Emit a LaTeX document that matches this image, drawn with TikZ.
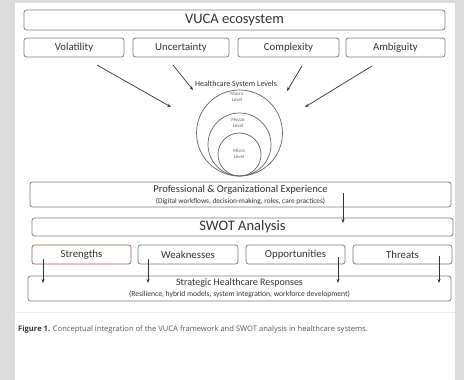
\documentclass[tikz,border=0pt]{standalone}
\usepackage{fontspec}
\setmainfont{Carlito}
\newfontfamily\capfont{Open Sans}
\usetikzlibrary{arrows.meta}

\definecolor{pagegray}{HTML}{DCDCDC}
\definecolor{boxline}{HTML}{7F7F7F}
\definecolor{redline}{HTML}{8E6A60}
\definecolor{inkgray}{HTML}{333333}

\tikzset{
  box/.style={draw=boxline, line width=0.8pt, rounded corners=2.5pt, fill=white,
    inner sep=0pt, text=inkgray, align=center},
  lvl/.style={font=\fontsize{5}{5.5}\selectfont, text=black!60, align=center, inner sep=0pt},
  arr/.style={-{Stealth[length=4pt,width=3pt]}, draw=inkgray, line width=0.7pt}
}

\begin{document}
\begin{tikzpicture}[x=1pt,y=-1pt]
    \fill [pagegray] (0,0) rectangle (464,380);
    \fill [white] (15,3) rectangle (455,380);
    \draw [black!7] (15,312) -- (455,312);

    \node [box, minimum width=421pt, minimum height=20pt, font=\fontsize{14.5}{16}\selectfont] (vuca) at (234.5,20) {VUCA ecosystem};
    \node [box, minimum width=100pt, minimum height=19pt, font=\fontsize{10.8}{12}\selectfont] (vol) at (74,47.5) {Volatility};
    \node [box, minimum width=96pt, minimum height=19pt, font=\fontsize{10.8}{12}\selectfont] (unc) at (181,47.5) {Uncertainty};
    \node [box, minimum width=101pt, minimum height=19pt, font=\fontsize{10.8}{12}\selectfont] (cpx) at (288.5,47.5) {Complexity};
    \node [box, minimum width=99pt, minimum height=19pt, font=\fontsize{10.8}{12}\selectfont] (amb) at (395.5,47.5) {Ambiguity};

    \node [text=inkgray, inner sep=0pt, font=\fontsize{8}{9}\selectfont] (hsl) at (236,84) {Healthcare System Levels};

    \draw [boxline!80!black, line width=0.7pt] (239.5,133) circle (43);
    \draw [boxline!80!black, line width=0.7pt] (239.5,144.5) circle (31.5);
    \draw [boxline!80!black, line width=0.7pt] (239.5,154.5) circle (21.5);
    \node [lvl] (macro) at (237,97) {Macro\\Level};
    \node [lvl] (mezzo) at (238,123) {Mezzo\\Level};
    \node [lvl] (micro) at (239,154) {Micro\\Level};

    \coordinate (v1) at (97,65);   \coordinate (v2) at (171,107);
    \coordinate (u1) at (173,65);  \coordinate (u2) at (193,90);
    \coordinate (c1) at (302,66);  \coordinate (c2) at (287,91);
    \coordinate (a1) at (372,66);  \coordinate (a2) at (305,107);
    \draw [arr] (v1) -- (v2);
    \draw [arr] (u1) -- (u2);
    \draw [arr] (c1) -- (c2);
    \draw [arr] (a1) -- (a2);

    \node [box, minimum width=421pt, minimum height=25pt] (prof) at (240.5,194.5)
      {{\fontsize{10.5}{12}\selectfont Professional \& Organizational Experience}\\[-1pt]
       {\fontsize{7.3}{9}\selectfont (Digital workflows, decision-making, roles, care practices)}};
    \node [box, minimum width=421pt, minimum height=18pt, font=\fontsize{14.5}{16}\selectfont] (swot) at (242.5,227) {SWOT Analysis};
    \coordinate (p1) at (343,193); \coordinate (p2) at (343,223);
    \draw [arr] (p1) -- (p2);

    \node [box, draw=redline, minimum width=99pt, minimum height=19pt, font=\fontsize{10.8}{12}\selectfont] (str) at (81.5,254.5) {Strengths};
    \node [box, minimum width=100pt, minimum height=19pt, font=\fontsize{10.8}{12}\selectfont] (wea) at (188,254.5) {Weaknesses};
    \node [box, minimum width=99pt, minimum height=19pt, font=\fontsize{10.8}{12}\selectfont] (opp) at (295.5,254.5) {Opportunities};
    \node [box, minimum width=99pt, minimum height=19pt, font=\fontsize{10.8}{12}\selectfont] (thr) at (402.5,254.5) {Threats};

    \node [box, minimum width=423pt, minimum height=25pt] (resp) at (239.5,288.5)
      {{\fontsize{10}{12}\selectfont Strategic Healthcare Responses}\\[-1pt]
       {\fontsize{7.6}{9}\selectfont (Resilience, hybrid models, system integration, workforce development)}};

    \coordinate (s1) at (43,259);  \coordinate (s2) at (43,283);
    \coordinate (w1) at (148,259); \coordinate (w2) at (148,283);
    \coordinate (o1) at (338,257); \coordinate (o2) at (338,283);
    \coordinate (t1) at (439,256); \coordinate (t2) at (439,283);
    \draw [arr] (s1) -- (s2);
    \draw [arr] (w1) -- (w2);
    \draw [arr] (o1) -- (o2);
    \draw [arr] (t1) -- (t2);

    \node [anchor=west, inner sep=0pt, text=black!65, font=\capfont\fontsize{7.6}{9}\selectfont] (cap) at (18,330)
      {{\bfseries\color{black!80}Figure 1.} Conceptual integration of the VUCA framework and SWOT analysis in healthcare systems.};
\end{tikzpicture}
\end{document}
